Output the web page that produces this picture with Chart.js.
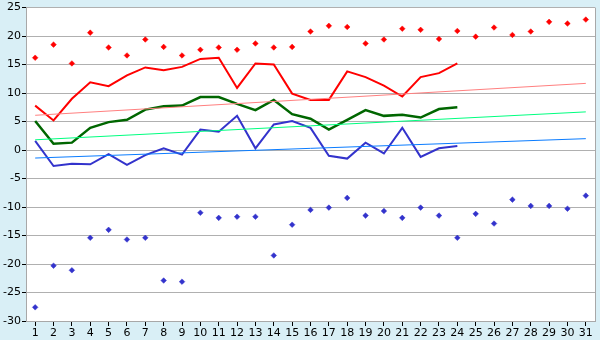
<!DOCTYPE html>
<html>
<head>
<meta charset="utf-8">
<script src="https://cdn.jsdelivr.net/npm/chart.js@4/dist/chart.umd.min.js"></script>
<style>
html,body{margin:0;padding:0;background:#d9eff6;}
#wrap{width:600px;height:340px;position:relative;}
</style>
</head>
<body>
<div id="wrap"><canvas id="c" width="600" height="340"></canvas></div>
<script>
const days = ['1','2','3','4','5','6','7','8','9','10','11','12','13','14','15','16','17','18','19','20','21','22','23','24','25','26','27','28','29','30','31'];
const recordMax = [16.2,18.5,15.2,20.6,18.0,16.6,19.4,18.1,16.6,17.6,18.0,17.6,18.7,18.0,18.1,20.8,21.8,21.6,18.7,19.4,21.3,21.1,19.5,20.9,19.9,21.5,20.2,20.8,22.5,22.2,22.9];
const recordMin = [-27.6,-20.3,-21.1,-15.4,-14.0,-15.7,-15.4,-22.9,-23.1,-11.0,-11.9,-11.7,-11.7,-18.5,-13.1,-10.5,-10.1,-8.4,-11.5,-10.7,-11.9,-10.1,-11.5,-15.4,-11.2,-12.9,-8.7,-9.8,-9.8,-10.3,-8.0];
const dailyMax = [7.8,5.2,9.0,11.9,11.2,13.1,14.5,14.0,14.6,16.0,16.2,10.9,15.2,15.0,9.9,8.8,8.8,13.8,12.8,11.3,9.4,12.8,13.5,15.2];
const dailyMean = [5.1,1.1,1.3,3.9,4.9,5.3,7.1,7.7,7.8,9.3,9.3,8.1,7.0,8.8,6.3,5.5,3.6,5.3,7.0,6.0,6.2,5.7,7.2,7.5];
const dailyMin = [1.6,-2.8,-2.4,-2.5,-0.7,-2.6,-0.9,0.3,-0.8,3.6,3.2,6.0,0.3,4.5,5.1,3.9,-1.0,-1.5,1.3,-0.6,3.9,-1.2,0.3,0.7];
const normalMaxEnds = [6.1, 11.7];
const normalMeanEnds = [1.8, 6.7];
const normalMinEnds = [-1.4, 2.0];
const yTicks = [25,20,15,10,5,0,-5,-10,-15,-20,-25,-30];

const ends = (v) => [{x: days[0], y: v[0]}, {x: days[days.length-1], y: v[1]}];

const framePlugin = {
  id: 'frame',
  beforeDraw(chart) {
    const {ctx, chartArea: a} = chart;
    ctx.save();
    ctx.fillStyle = '#d9eff6';
    ctx.fillRect(0, 0, chart.width, chart.height);
    ctx.fillStyle = '#ffffff';
    ctx.fillRect(a.left, a.top, a.right - a.left, a.bottom - a.top);
    ctx.restore();
  },
  afterDatasetsDraw(chart) {
    const {ctx, chartArea: a} = chart;
    ctx.save();
    ctx.strokeStyle = '#a8a8a8';
    ctx.lineWidth = 1;
    ctx.beginPath();
    ctx.moveTo(Math.round(a.right) + 0.5, a.top);
    ctx.lineTo(Math.round(a.right) + 0.5, a.bottom);
    ctx.stroke();
    ctx.restore();
  }
};

const pt = (color) => ({
  type: 'line', showLine: false, pointStyle: 'rectRot', pointRadius: 2.8,
  pointBackgroundColor: color, pointBorderColor: color, pointBorderWidth: 0.5
});

new Chart(document.getElementById('c'), {
  type: 'line',
  data: {
    labels: days,
    datasets: [
      {data: ends(normalMaxEnds), borderColor: '#ff8080', borderWidth: 1, pointRadius: 0, spanGaps: true},
      {data: ends(normalMeanEnds), borderColor: '#00ff80', borderWidth: 1, pointRadius: 0, spanGaps: true},
      {data: ends(normalMinEnds), borderColor: '#0a7cff', borderWidth: 1, pointRadius: 0, spanGaps: true},
      {data: dailyMax, borderColor: '#ff0000', borderWidth: 2, pointRadius: 0},
      {data: dailyMean, borderColor: '#006600', borderWidth: 2.5, pointRadius: 0},
      {data: dailyMin, borderColor: '#3333cc', borderWidth: 2, pointRadius: 0},
      Object.assign({data: recordMax}, pt('#ff0000')),
      Object.assign({data: recordMin}, pt('#3333cc'))
    ]
  },
  options: {
    responsive: false,
    animation: false,
    layout: {padding: {top: 5, right: 5, left: 0, bottom: 0}},
    plugins: {legend: {display: false}, tooltip: {enabled: false}},
    elements: {line: {tension: 0, fill: false}},
    scales: {
      x: {
        offset: true,
        grid: {display: true, drawOnChartArea: false, drawTicks: true, tickLength: 5, tickColor: '#000000', color: '#000000'},
        border: {display: true, color: '#a8a8a8'},
        ticks: {color: '#000000', font: {family: 'DejaVu Sans', size: 11}, padding: 1, maxRotation: 0, autoSkip: false},
        afterFit(s) { s.height = 19; }
      },
      y: {
        min: -30, max: 25,
        afterBuildTicks(s) { s.ticks = yTicks.map(v => ({value: v})); },
        grid: {color: '#b0b0b0', drawTicks: true, tickLength: 4, tickColor: '#000000'},
        border: {display: true, color: '#a8a8a8'},
        ticks: {color: '#000000', font: {family: 'DejaVu Sans', size: 11}, padding: 1},
        afterFit(s) { s.width = 26; }
      }
    }
  },
  plugins: [framePlugin]
});
</script>
</body>
</html>
